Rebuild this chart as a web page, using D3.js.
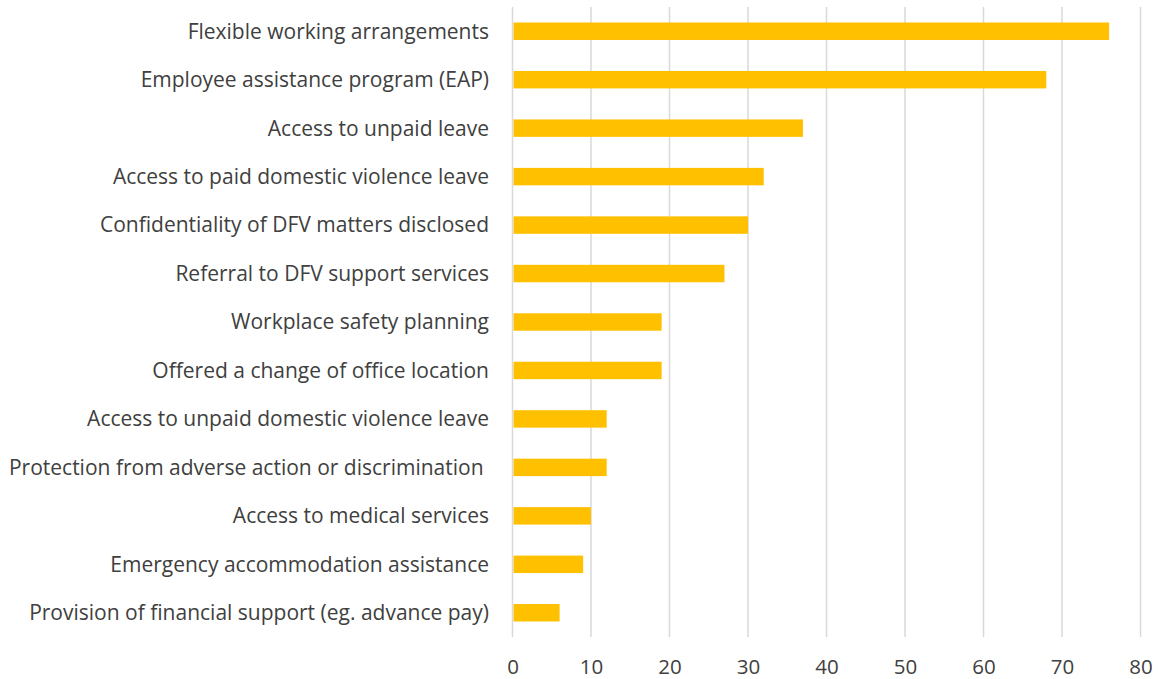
<!DOCTYPE html>
<html>
<head>
<meta charset="utf-8">
<script src="https://cdn.jsdelivr.net/npm/d3@7"></script>
<style>
  html, body { margin: 0; padding: 0; background: #fff; }
  svg text { font-family: "Open Sans", sans-serif; fill: #404040; white-space: pre; }
</style>
</head>
<body>
<svg id="chart" width="1162" height="679"></svg>
<script>
// Workplace supports offered, by share of respondents
const categories = [
  "Flexible working arrangements",
  "Employee assistance program (EAP)",
  "Access to unpaid leave",
  "Access to paid domestic violence leave",
  "Confidentiality of DFV matters disclosed",
  "Referral to DFV support services",
  "Workplace safety planning",
  "Offered a change of office location",
  "Access to unpaid domestic violence leave",
  "Protection from adverse action or discrimination ",
  "Access to medical services",
  "Emergency accommodation assistance",
  "Provision of financial support (eg. advance pay)"
];
const values = [76, 68, 37, 32, 30, 27, 19, 19, 12, 12, 10, 9, 6];
const tickValues = [0, 10, 20, 30, 40, 50, 60, 70, 80];

const svg = d3.select("#chart");
const margin = { left: 512.5, right: 21.5, top: 7, bottom: 42 };
const width = 1162, height = 679;

const x = d3.scaleLinear().domain([0, 80]).range([margin.left, width - margin.right]);
const y = d3.scaleBand().domain(categories).range([margin.top, height - margin.bottom]).paddingInner(0.64).paddingOuter(0.32);

// vertical gridlines
svg.append("g")
  .selectAll("line")
  .data(tickValues)
  .join("line")
  .attr("x1", d => x(d)).attr("x2", d => x(d))
  .attr("y1", margin.top).attr("y2", height - margin.bottom)
  .attr("stroke", "#d9d9d9").attr("stroke-width", 1.5);

// bars
svg.append("g")
  .selectAll("rect")
  .data(values)
  .join("rect")
  .attr("x", x(0) + 1)
  .attr("y", (d, i) => y(categories[i]))
  .attr("width", d => x(d) - x(0) - 1)
  .attr("height", y.bandwidth())
  .attr("fill", "#ffc000");

// category labels
svg.append("g")
  .selectAll("text")
  .data(categories)
  .join("text")
  .attr("x", 489)
  .attr("y", d => y(d) + y.bandwidth() / 2)
  .attr("dy", "0.35em")
  .attr("text-anchor", "end")
  .attr("font-size", 21)
  .text(d => d);

// x axis tick labels
const xAxis = d3.axisBottom(x).tickValues(tickValues).tickSize(0).tickPadding(22);
const gx = svg.append("g")
  .attr("transform", `translate(0,${height - margin.bottom})`)
  .call(xAxis);
gx.select(".domain").remove();
gx.selectAll("text")
  .attr("font-size", 20.5)
  .style("font-family", '"Open Sans", sans-serif')
  .attr("fill", "#595959");
</script>
</body>
</html>
